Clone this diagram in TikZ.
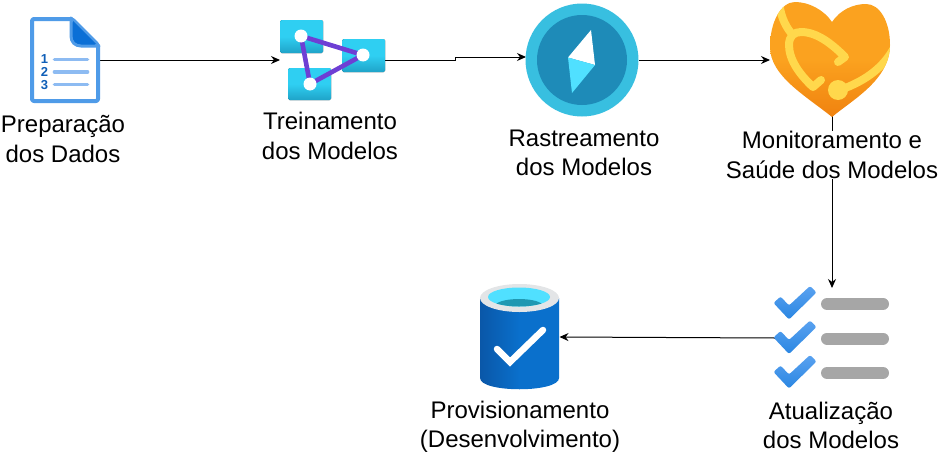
\documentclass[tikz,border=0pt]{standalone}
\usepackage{fontspec}
\setmainfont{Liberation Sans}
\usetikzlibrary{arrows.meta}
\definecolor{docblue}{HTML}{4F9BE8}
\definecolor{docdark}{HTML}{0B6FD6}
\definecolor{docnum}{HTML}{0F5FB8}
\definecolor{docline}{HTML}{8DBBF2}
\definecolor{cyantop}{HTML}{2FCFF2}
\definecolor{cyanbot}{HTML}{1FA3C8}
\definecolor{netpurple}{HTML}{6E3FD4}
\definecolor{compout}{HTML}{38BFE0}
\definecolor{compin}{HTML}{1E8BB8}
\definecolor{needle}{HTML}{50E0FF}
\definecolor{hearttop}{HTML}{FBA21F}
\definecolor{heartbot}{HTML}{F0820F}
\definecolor{steth}{HTML}{FFD84C}
\definecolor{checktop}{HTML}{5AA2F0}
\definecolor{checkbot}{HTML}{2A86E2}
\definecolor{barg}{HTML}{A6A6A6}
\definecolor{cyldark}{HTML}{0A57A8}
\definecolor{cyllight}{HTML}{0A70CC}
\definecolor{ring}{HTML}{E3E5E7}
\definecolor{teal}{HTML}{1F98B2}
\tikzset{
  iconbox/.style={inner sep=0pt,outer sep=0pt},
  link/.style={draw=black,line width=1pt,-{Stealth[length=9pt,width=8pt]}},
  lab/.style={fill=white,inner sep=1pt,align=center,font=\fontsize{24}{29.3}\selectfont},
  docnumb/.style={text=docnum,inner sep=0pt,font=\fontsize{13}{13}\selectfont\bfseries},
  docbar/.style={line width=3.6pt,line cap=round,draw=docline},
  tile/.style={rounded corners=1.5pt,top color=cyantop,bottom color=cyanbot,middle color=cyantop},
  dot/.style={circle,fill=white,inner sep=0pt,minimum size=13pt},
  greybar/.style={line width=12pt,line cap=round,draw=barg},
  stethline/.style={draw=steth,line width=8pt,line cap=round,line join=round}
}
\begin{document}
\begin{tikzpicture}[x=1pt,y=-1pt]
\useasboundingbox (0,0) rectangle (939,455);
% invisible icon extents
\node[iconbox,minimum width=70pt,minimum height=86pt] (doc) at (65,60) {};
\node[iconbox,minimum width=105pt,minimum height=80pt] (train) at (332.5,60) {};
\node[iconbox,minimum width=114pt,minimum height=114pt] (compass) at (582,60) {};
\node[iconbox,minimum width=120pt,minimum height=116pt] (heart) at (830,60) {};
\node[iconbox,minimum width=114pt,minimum height=100pt] (update) at (832,338) {};
\node[iconbox,minimum width=80pt,minimum height=104pt] (cyl) at (519.5,337) {};
\coordinate (jogA) at (455,60);
\coordinate (jogB) at (455,57);
\coordinate (compIn) at (526,57);
\coordinate (heartOut) at (832,116);
\coordinate (updIn) at (832,288);
% connectors
\draw[link] (doc.east) -- (train.west);
\draw[link] (train.east) -- (jogA) -- (jogB) -- (compIn);
\draw[link] (compass.east) -- (heart.west);
\draw[link] (heartOut) -- (updIn);
\draw[link] (update.west) -- (cyl.east);
% document icon
\draw[docblue,line width=4pt,fill=white,rounded corners=2pt,line join=round]
  (32,19) -- (72,19) -- (98,45) -- (98,101) -- (32,101) -- cycle;
\draw[docblue,line width=3pt,fill=docdark,line join=round]
  (71,18) -- (71,36) .. controls (71,42) and (75,46) .. (81,46) -- (99,46) -- cycle;
\fill[docdark] (73,21) -- (96,44) -- (81,44) .. controls (76,44) and (73,41) .. (73,36) -- cycle;
\node[docnumb] (n1) at (44.5,59) {1};
\node[docnumb] (n2) at (44.5,72) {2};
\node[docnumb] (n3) at (44.5,85) {3};
\draw[docbar] (54.5,59.5) -- (87.5,59.5);
\draw[docbar] (54.5,72) -- (87.5,72);
\draw[docbar] (54.5,84.5) -- (87.5,84.5);
% training icon
\fill[tile] (280,20) rectangle (323,53);
\fill[tile] (288,68) rectangle (331,100);
\fill[tile] (342,39) rectangle (385,72);
\draw[netpurple,line width=4.6pt,line join=miter] (301,36) -- (363,55) -- (310,84) -- cycle;
\node[dot] (d1) at (301,36) {};
\node[dot] (d2) at (310,84) {};
\node[dot] (d3) at (363,55) {};
% compass icon
\fill[compout] (582,60) circle[radius=56.5];
\fill[compin] (582,60) circle[radius=45];
\fill[white] (591,30) -- (568,57.5) -- (595,65) -- cycle;
\fill[needle] (568,57.5) -- (595,65) -- (572,93) -- cycle;
% heart icon
\def\heartpath{(832,22) .. controls (824,10) and (809,2) .. (795,2)
  .. controls (781,2) and (770,22) .. (770,47)
  .. controls (770,76) and (806,96) .. (832,117)
  .. controls (852,100) and (890,80) .. (890,45)
  .. controls (890,22) and (880,4) .. (866,4)
  .. controls (853,4) and (840,10) .. (832,22) -- cycle}
\shade[top color=hearttop,bottom color=heartbot,middle color=hearttop] \heartpath;
\begin{scope}
\clip \heartpath;
\draw[stethline] (779,0) .. controls (780,14) and (784,24) .. (791,33);
\draw[stethline] (894,48) .. controls (884,66) and (868,80) .. (840,90);
\end{scope}
\draw[stethline] (821,80) -- (813,87) .. controls (800,75) and (789,60) .. (789,45)
  .. controls (789,36) and (794,32) .. (801,32)
  .. controls (817,32) and (832,44) .. (845,57) -- (838,62);
\fill[steth] (838,90) circle[radius=10];
% update icon
\foreach \dy in {0,34.5,69}{
  \shade[top color=checktop,bottom color=checkbot,rounded corners=2pt]
    (773.5,303+\dy) -- (780.5,296.5+\dy) -- (789,305.5+\dy) -- (810,286+\dy) -- (816.5,292.5+\dy)
    -- (789,319.5+\dy) -- cycle;
  \draw[greybar] (827,304+\dy) -- (883,304+\dy);
}
% database icon
\shade[left color=cyldark,right color=cyllight,middle color=cyllight]
  (480,298) -- (480,378) .. controls (480,393) and (559,393) .. (559,378) -- (559,298) -- cycle;
\fill[ring] (519.5,298) ellipse[x radius=39.5,y radius=14];
\fill[needle] (519,297) ellipse[x radius=31,y radius=9.5];
\begin{scope}
\clip (519,297) ellipse[x radius=31,y radius=9.5];
\fill[teal] (519,306) ellipse[x radius=24,y radius=7];
\end{scope}
\draw[white,line width=6.5pt,line join=miter,line cap=round] (497,349) -- (510,362) -- (543,330);
% labels
\node[lab] (l1) at (63,139) {Preparação\\dos Dados};
\node[lab] (l2) at (330,136) {Treinamento\\dos Modelos};
\node[lab] (l3) at (584,153) {Rastreamento\\dos Modelos};
\node[lab] (l4) at (832,155) {Monitoramento e\\Saúde dos Modelos};
\node[lab] (l5) at (831,425.5) {Atualização\\dos Modelos};
\node[lab] (l6) at (520,426.5) {Provisionamento\\(Desenvolvimento)};
\end{tikzpicture}
\end{document}
